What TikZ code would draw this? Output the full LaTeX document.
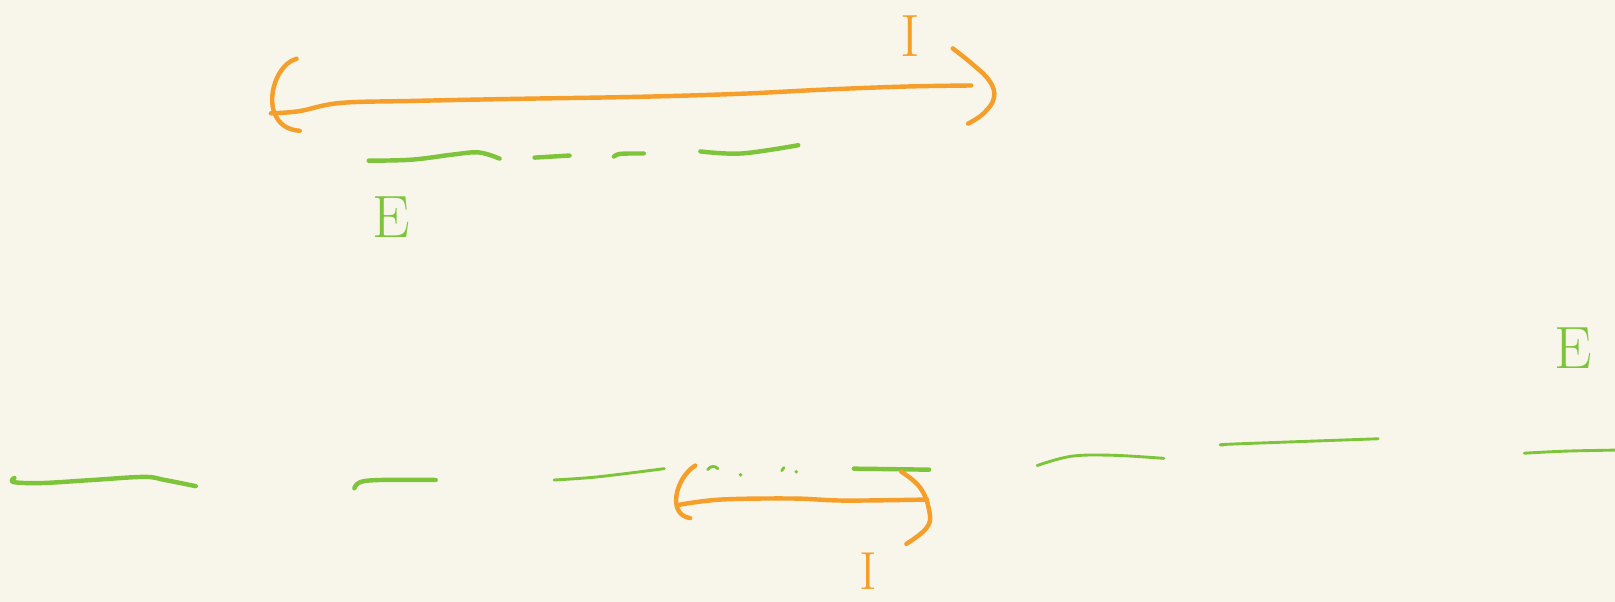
\documentclass[tikz,border=0pt]{standalone}
\usepackage{tikz}
\definecolor{bg}{RGB}{248,246,234}
\definecolor{sko}{RGB}{245,158,42}
\definecolor{skg}{RGB}{125,196,58}
\tikzset{
  ostroke/.style={draw=sko,line width=4.3pt,line cap=round,line join=round},
  gstroke/.style={draw=skg,line width=4.3pt,line cap=round,line join=round},
  gthin/.style={draw=skg,line width=2.8pt,line cap=round,line join=round},
  lbl/.style={font=\fontsize{58}{58}\selectfont,inner sep=0pt},
  lbls/.style={font=\fontsize{52}{52}\selectfont,inner sep=0pt}
}
\begin{document}
\begin{tikzpicture}[x=1pt,y=-1pt]
\fill[bg] (0,0) rectangle (1568,584);
\useasboundingbox (0,0) rectangle (1568,584);
% top orange interval
\draw[ostroke] (288,57) .. controls (262,64) and (250,124) .. (291,127);
\draw[ostroke] plot[smooth,tension=0.6] coordinates {(263,110) (290,108) (330,100) (400,98) (500,96) (620,94) (720,91) (800,87) (880,84) (943,83)};
\draw[ostroke] plot[smooth,tension=0.7] coordinates {(925,47) (945,63) (961,79) (965,95) (955,110) (940,120)};
\node[lbl,text=sko] (i1) at (884,35) {I};
% top green dashes
\draw[gstroke] plot[smooth,tension=0.6] coordinates {(358,156) (400,155) (440,150) (465,148) (485,154)};
\draw[gstroke] (519,153) -- (553,151);
\draw[gstroke] (596,152) .. controls (600,149) .. (625,149);
\draw[gstroke] plot[smooth,tension=0.6] coordinates {(680,147) (720,149) (775,141)};
\node[lbl,text=skg] (e1) at (380,211) {E};
% bottom green dashes
\draw[gstroke] plot[smooth,tension=0.6] coordinates {(14,464) (13,468) (40,469) (90,466) (140,463) (160,466) (190,472)};
\draw[gstroke] plot[smooth,tension=0.6] coordinates {(344,474) (350,468) (370,466) (423,466)};
\draw[gthin] plot[smooth,tension=0.6] coordinates {(538,466) (580,463) (645,455)};
\draw[gthin] (687,456) .. controls (690,452) and (694,452) .. (697,455);
\fill[skg] (719,461) circle (1.9pt);
\draw[gthin] (759,457) -- (761,454);
\fill[skg] (773,458) circle (1.8pt);
\draw[gstroke] (829,455) -- (902,456);
\draw[gthin] plot[smooth,tension=0.6] coordinates {(1007,452) (1040,443) (1080,442) (1130,445)};
\draw[gthin] plot[smooth,tension=0.6] coordinates {(1188,432) (1200,431) (1338,426)};
\draw[gthin] plot[smooth,tension=0.6] coordinates {(1480,440) (1520,438) (1568,437)};
\node[lbl,text=skg] (e2) at (1527,338) {E};
% bottom orange interval
\draw[ostroke] (675,452) .. controls (655,465) and (648,500) .. (670,503);
\draw[ostroke] plot[smooth,tension=0.6] coordinates {(660,490) (700,485) (770,484) (820,486) (900,485)};
\draw[ostroke] plot[smooth,tension=0.7] coordinates {(875,458) (893,473) (902,495) (900,512) (880,528)};
\node[lbls,text=sko] (i2) at (843,555) {I};
\end{tikzpicture}
\end{document}
